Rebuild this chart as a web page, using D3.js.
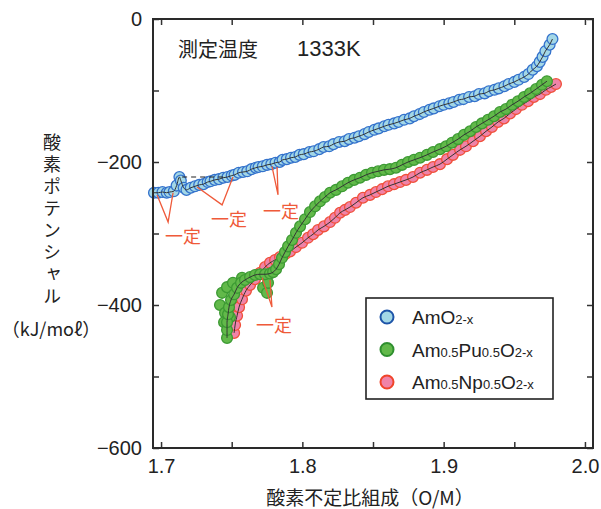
<!DOCTYPE html>
<html>
<head>
<meta charset="utf-8">
<script src="https://cdn.jsdelivr.net/npm/d3@7"></script>
<style>
body { margin: 0; background: #fff; }
text { font-family: "Liberation Sans", Arial, sans-serif; fill: #222; }
.jp { font-family: "Noto Sans CJK JP", sans-serif; }
</style>
</head>
<body>
<svg id="chart" width="601" height="509"></svg>
<script>
// O/M ratio vs oxygen potential (kJ/mol)
const amO2 = [
	[1.695,-243],[1.698,-243],[1.701,-242],[1.704,-243],[1.706,-242],[1.709,-241],[1.711,-233],[1.713,-221],
	[1.714,-226],[1.716,-236],[1.718,-239],[1.721,-236],[1.724,-234],[1.727,-232],[1.730,-231],[1.733,-228],
	[1.735,-227],[1.738,-225],[1.741,-224],[1.744,-222],[1.747,-221],[1.750,-219],[1.752,-218],[1.755,-215],
	[1.758,-214],[1.761,-213],[1.764,-210],[1.767,-208],[1.769,-207],[1.772,-206],[1.775,-204],[1.778,-203],
	[1.781,-201],[1.784,-200],[1.786,-197],[1.789,-196],[1.792,-194],[1.795,-193],[1.798,-190],[1.801,-189],
	[1.805,-186],[1.808,-185],[1.812,-182],[1.815,-179],[1.819,-178],[1.822,-175],[1.826,-172],[1.830,-171],
	[1.833,-168],[1.837,-166],[1.840,-164],[1.844,-161],[1.847,-158],[1.851,-155],[1.854,-153],[1.858,-150],
	[1.861,-148],[1.865,-146],[1.868,-144],[1.872,-141],[1.876,-139],[1.879,-136],[1.883,-133],[1.886,-130],
	[1.890,-127],[1.893,-125],[1.897,-122],[1.900,-120],[1.904,-118],[1.907,-116],[1.911,-113],[1.914,-112],
	[1.918,-109],[1.922,-108],[1.925,-105],[1.929,-104],[1.932,-101],[1.936,-99],[1.939,-97],[1.943,-94],
	[1.946,-91],[1.950,-88],[1.953,-85],[1.957,-81],[1.960,-77],[1.963,-71],[1.966,-66],[1.968,-60],
	[1.970,-53],[1.972,-45],[1.975,-36],[1.977,-28]
];

const amPu = [
	[1.7467,-446],[1.7467,-435],[1.7467,-424],[1.7474,-413],[1.7481,-403],[1.7495,-393],[1.7517,-385],[1.7538,-376],
	[1.7566,-369],[1.7594,-365],[1.7630,-361],[1.7665,-358],[1.7701,-357],[1.7736,-357],[1.7771,-356],[1.7793,-354],
	[1.7814,-350],[1.7835,-343],[1.7856,-334],[1.7877,-326],[1.7899,-318],[1.7927,-309],[1.7955,-299],[1.7984,-290],
	[1.8019,-280],[1.8054,-270],[1.8090,-262],[1.8125,-255],[1.8160,-249],[1.8196,-243],[1.8238,-239],[1.8281,-234],
	[1.8323,-229],[1.8366,-225],[1.8408,-222],[1.8451,-218],[1.8493,-215],[1.8536,-213],[1.8578,-211],[1.8620,-210],
	[1.8663,-208],[1.8705,-204],[1.8748,-200],[1.8790,-197],[1.8833,-194],[1.8882,-190],[1.8925,-186],[1.8974,-182],
	[1.9017,-178],[1.9059,-173],[1.9102,-168],[1.9144,-162],[1.9187,-157],[1.9229,-151],[1.9271,-146],[1.9314,-141],
	[1.9356,-136],[1.9399,-130],[1.9441,-126],[1.9484,-120],[1.9526,-115],[1.9569,-109],[1.9611,-104],[1.9654,-98],
	[1.9696,-92],[1.9731,-87]
];
// scattered Am0.5Pu0.5O2-x points around the low O/M end
const amPuExtra = [
	[1.7417,-400],[1.7432,-383],[1.7467,-375],[1.7453,-411],[1.7509,-369],[1.7573,-362],
	[1.7722,-376],[1.7750,-383],[1.7757,-369],[1.7488,-417],[1.7446,-424]
];

const amNp = [
	[1.7517,-439],[1.7524,-428],[1.7538,-415],[1.7552,-403],[1.7573,-392],[1.7601,-380],[1.7630,-372],[1.7665,-364],
	[1.7701,-355],[1.7736,-347],[1.7771,-341],[1.7807,-337],[1.7842,-333],[1.7877,-329],[1.7913,-325],[1.7955,-319],
	[1.7998,-313],[1.8040,-306],[1.8076,-301],[1.8111,-295],[1.8153,-290],[1.8196,-284],[1.8231,-278],[1.8267,-271],
	[1.8302,-267],[1.8337,-263],[1.8380,-257],[1.8429,-250],[1.8479,-246],[1.8521,-242],[1.8564,-238],[1.8606,-234],
	[1.8649,-231],[1.8691,-228],[1.8734,-225],[1.8783,-221],[1.8833,-215],[1.8882,-211],[1.8925,-207],[1.8974,-203],
	[1.9024,-196],[1.9066,-190],[1.9116,-183],[1.9158,-178],[1.9208,-171],[1.9257,-164],[1.9300,-157],[1.9342,-151],
	[1.9385,-144],[1.9427,-139],[1.9470,-132],[1.9512,-126],[1.9554,-120],[1.9597,-115],[1.9639,-109],[1.9682,-105],
	[1.9724,-99],[1.9760,-95],[1.9795,-91]
];

// dashed reference level at the AmO2-x peak
const plateau = [[1.7149,-221],[1.7453,-221]];

// "一定" callouts: V lines (arm, tip, arm) and label position
const calloutLines = [
	[[1.6972,-246],[1.7050,-284],[1.7085,-243]],
	[[1.7255,-235],[1.7432,-260],[1.7509,-221]],
	[[1.7785,-206],[1.7828,-246],[1.7821,-207]],
	[[1.7715,-362],[1.7785,-403],[1.7771,-365]]
];
const calloutLabels = [[1.7156,-302],[1.7481,-278],[1.7849,-267],[1.7800,-427]];

const xTicks = [1.70,1.75,1.80,1.85,1.90,1.95,2.00];
const xLabels = [1.7,1.8,1.9,2.0];
const yTicks = [0,-100,-200,-300,-400,-500,-600];
const yLabels = [0,-200,-400,-600];

const series = [
	{ name: [["Am",0],["0.5",1],["Np",0],["0.5",1],["O",0],["2-x",1]], pts: amNp, extra: [], fill: "#f083a8", stroke: "#f0503a" },
	{ name: [["Am",0],["0.5",1],["Pu",0],["0.5",1],["O",0],["2-x",1]], pts: amPu, extra: amPuExtra, fill: "#62b94a", stroke: "#3c9a33" },
	{ name: [["AmO",0],["2-x",1]], pts: amO2, extra: [], fill: "#a3d7e6", stroke: "#3472cc" }
];
const legendOrder = [2, 1, 0];
const legendStroke = ["#f0442a", "#2f8f2f", "#1d54a8"];

const svg = d3.select("#chart");
const plot = { left: 153, top: 19, right: 593, bottom: 448 };

const x = d3.scaleLinear().domain([1.6943, 2.0057]).range([plot.left, plot.right]);
const y = d3.scaleLinear().domain([-600, 0]).range([plot.bottom, plot.top]);

const fmtX = d => xLabels.some(v => Math.abs(v - d) < 1e-6) ? d.toFixed(1) : "";
const fmtY = d => yLabels.includes(d) ? d3.format("d")(d) : "";

// axes, ticks pointing inward on all four sides
svg.append("g").attr("transform", `translate(0,${plot.bottom})`)
	.call(d3.axisBottom(x).tickValues(xTicks).tickSize(-6).tickPadding(11).tickFormat(fmtX));
svg.append("g").attr("transform", `translate(0,${plot.top})`)
	.call(d3.axisTop(x).tickValues(xTicks).tickSize(-6).tickFormat(""));
svg.append("g").attr("transform", `translate(${plot.left},0)`)
	.call(d3.axisLeft(y).tickValues(yTicks).tickSize(-6).tickPadding(11).tickFormat(fmtY));
svg.append("g").attr("transform", `translate(${plot.right},0)`)
	.call(d3.axisRight(y).tickValues(yTicks).tickSize(-6).tickFormat(""));

svg.selectAll(".domain").remove();
svg.selectAll(".tick line").attr("stroke", "#333").attr("stroke-width", 1.5);
svg.selectAll(".tick text").style("font-size", "20px").attr("fill", "#222");

const line = d3.line().x(d => x(d[0])).y(d => y(d[1])).curve(d3.curveMonotoneX);

series.forEach(s => {
	const g = svg.append("g");
	g.selectAll("circle")
		.data(s.extra.concat(s.pts))
		.enter()
		.append("circle")
		.attr("cx", d => x(d[0]))
		.attr("cy", d => y(d[1]))
		.attr("r", 5.4)
		.attr("fill", s.fill)
		.attr("stroke", s.stroke)
		.attr("stroke-width", 1.3);
	g.append("path")
		.datum(s.pts)
		.attr("d", line)
		.attr("fill", "none")
		.attr("stroke", "#333")
		.attr("stroke-width", 1);
});

svg.append("path")
	.datum(plateau)
	.attr("d", d3.line().x(d => x(d[0])).y(d => y(d[1])))
	.attr("stroke", "#222")
	.attr("stroke-width", 1.2)
	.attr("stroke-dasharray", "5,4")
	.attr("fill", "none");

// callouts
const red = "#ef5a3a";
svg.selectAll(".callout")
	.data(calloutLines)
	.enter()
	.append("path")
	.attr("class", "callout")
	.attr("d", d3.line().x(d => x(d[0])).y(d => y(d[1])))
	.attr("fill", "none")
	.attr("stroke", red)
	.attr("stroke-width", 1.3);
svg.selectAll(".callout-label")
	.data(calloutLabels)
	.enter()
	.append("text")
	.attr("class", "jp callout-label")
	.attr("x", d => x(d[0]))
	.attr("y", d => y(d[1]))
	.attr("text-anchor", "middle")
	.attr("dominant-baseline", "central")
	.style("font-size", "18px")
	.style("fill", red)
	.text("一定");

// frame
svg.append("rect")
	.attr("x", plot.left).attr("y", plot.top)
	.attr("width", plot.right - plot.left).attr("height", plot.bottom - plot.top)
	.attr("fill", "none").attr("stroke", "#2a2a2a").attr("stroke-width", 2);

// title
let title = svg.append("text").attr("y", 48).attr("dominant-baseline", "central").style("font-size", "20px");
title.append("tspan").attr("class", "jp").attr("x", 178).text("測定温度");
title.append("tspan").attr("x", 297).style("font-size", "22px").text("1333K");

// axis titles
svg.append("text").attr("class", "jp")
	.attr("x", 370).attr("y", 496)
	.attr("text-anchor", "middle").attr("dominant-baseline", "central")
	.style("font-size", "19px")
	.text("酸素不定比組成（O/M）");

svg.append("text").attr("class", "jp")
	.attr("x", 52).attr("y", 133)
	.attr("writing-mode", "vertical-rl")
	.style("font-size", "18px")
	.style("letter-spacing", "4px")
	.text("酸素ポテンシャル");
svg.append("text").attr("class", "jp")
	.attr("x", 51).attr("y", 328)
	.attr("text-anchor", "middle").attr("dominant-baseline", "central")
	.style("font-size", "18px")
	.text("（kJ/moℓ）");

// legend
const lg = svg.append("g");
lg.append("rect")
	.attr("x", 366).attr("y", 298).attr("width", 187).attr("height", 101)
	.attr("fill", "#fff").attr("stroke", "#222").attr("stroke-width", 1.6);
legendOrder.forEach((si, i) => {
	const s = series[si];
	const cy = 317 + i * 32.5;
	lg.append("circle")
		.attr("cx", 387).attr("cy", cy).attr("r", 6.5)
		.attr("fill", s.fill).attr("stroke", legendStroke[si]).attr("stroke-width", 2);
	const t = lg.append("text").attr("x", 412).attr("y", cy + 7).style("font-size", "19px");
	s.name.forEach(p => {
		t.append("tspan").style("font-size", p[1] ? "13px" : "19px").text(p[0]);
	});
});
</script>
</body>
</html>
